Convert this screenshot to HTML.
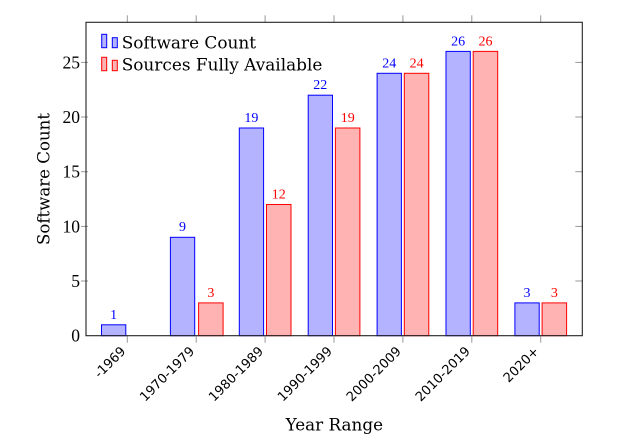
<!DOCTYPE html>
<html><head><meta charset="utf-8"><style>
html,body{margin:0;padding:0;background:#fff;}
svg{display:block;}
</style></head><body>
<svg width="621" height="444" viewBox="0 0 621 444" xmlns="http://www.w3.org/2000/svg">
<rect width="621" height="444" fill="#fff"/>
<!-- bars -->
<g stroke-width="1">
<!-- blue -->
<rect x="101.5" y="324.8" width="24.3" height="10.9" fill="#b3b3ff" stroke="#0000ff"/>
<rect x="170.4" y="237.3" width="24.3" height="98.4" fill="#b3b3ff" stroke="#0000ff"/>
<rect x="239.3" y="128.0" width="24.3" height="207.7" fill="#b3b3ff" stroke="#0000ff"/>
<rect x="308.2" y="95.2" width="24.3" height="240.5" fill="#b3b3ff" stroke="#0000ff"/>
<rect x="377.1" y="73.3" width="24.3" height="262.4" fill="#b3b3ff" stroke="#0000ff"/>
<rect x="446.0" y="51.4" width="24.3" height="284.3" fill="#b3b3ff" stroke="#0000ff"/>
<rect x="514.9" y="302.9" width="24.3" height="32.8" fill="#b3b3ff" stroke="#0000ff"/>
<!-- red -->
<rect x="198.6" y="302.9" width="24.5" height="32.8" fill="#ffb3b3" stroke="#ff0000"/>
<rect x="266.5" y="204.5" width="24.5" height="131.2" fill="#ffb3b3" stroke="#ff0000"/>
<rect x="335.4" y="128.0" width="24.5" height="207.7" fill="#ffb3b3" stroke="#ff0000"/>
<rect x="404.3" y="73.3" width="24.5" height="262.4" fill="#ffb3b3" stroke="#ff0000"/>
<rect x="473.2" y="51.4" width="24.5" height="284.3" fill="#ffb3b3" stroke="#ff0000"/>
<rect x="542.1" y="302.9" width="24.5" height="32.8" fill="#ffb3b3" stroke="#ff0000"/>
</g>
<!-- bar labels -->
<g font-family="'Liberation Serif', serif" font-size="14" text-anchor="middle">
<g fill="#0000ff">
<text x="113.6" y="319">1</text>
<text x="182.5" y="231">9</text>
<text x="251.4" y="122">19</text>
<text x="320.3" y="89.2">22</text>
<text x="389.2" y="67.3">24</text>
<text x="458.1" y="45.4">26</text>
<text x="527.0" y="296.9">3</text>
</g>
<g fill="#ff0000">
<text x="210.9" y="296.9">3</text>
<text x="278.8" y="198.5">12</text>
<text x="347.7" y="122">19</text>
<text x="416.6" y="67.3">24</text>
<text x="485.5" y="45.4">26</text>
<text x="554.4" y="296.9">3</text>
</g>
</g>
<!-- ticks -->
<g stroke="#999" stroke-width="1">
<line x1="127.3" y1="15.3" x2="127.3" y2="22.3"/>
<line x1="196.2" y1="15.3" x2="196.2" y2="22.3"/>
<line x1="265.1" y1="15.3" x2="265.1" y2="22.3"/>
<line x1="334.0" y1="15.3" x2="334.0" y2="22.3"/>
<line x1="402.9" y1="15.3" x2="402.9" y2="22.3"/>
<line x1="471.8" y1="15.3" x2="471.8" y2="22.3"/>
<line x1="540.7" y1="15.3" x2="540.7" y2="22.3"/>
<line x1="127.3" y1="335.7" x2="127.3" y2="342.7"/>
<line x1="196.2" y1="335.7" x2="196.2" y2="342.7"/>
<line x1="265.1" y1="335.7" x2="265.1" y2="342.7"/>
<line x1="334.0" y1="335.7" x2="334.0" y2="342.7"/>
<line x1="402.9" y1="335.7" x2="402.9" y2="342.7"/>
<line x1="471.8" y1="335.7" x2="471.8" y2="342.7"/>
<line x1="540.7" y1="335.7" x2="540.7" y2="342.7"/>
<line x1="81" y1="281.0" x2="88" y2="281.0"/>
<line x1="81" y1="226.4" x2="88" y2="226.4"/>
<line x1="81" y1="171.7" x2="88" y2="171.7"/>
<line x1="81" y1="117.0" x2="88" y2="117.0"/>
<line x1="81" y1="62.4" x2="88" y2="62.4"/>
<line x1="575.3" y1="281.0" x2="582.3" y2="281.0"/>
<line x1="575.3" y1="226.4" x2="582.3" y2="226.4"/>
<line x1="575.3" y1="171.7" x2="582.3" y2="171.7"/>
<line x1="575.3" y1="117.0" x2="582.3" y2="117.0"/>
<line x1="575.3" y1="62.4" x2="582.3" y2="62.4"/>
</g>
<!-- frame -->
<rect x="86" y="22.3" width="496.3" height="313.4" fill="none" stroke="#222" stroke-width="1.1"/>
<!-- y tick labels -->
<g font-family="'Liberation Serif', serif" font-size="17.5" text-anchor="end" fill="#000">
<text x="80" y="341.7">0</text>
<text x="80" y="287.0">5</text>
<text x="80" y="232.4">10</text>
<text x="80" y="177.7">15</text>
<text x="80" y="123.0">20</text>
<text x="80" y="68.4">25</text>
</g>
<!-- x tick labels -->
<g font-family="'DejaVu Sans', sans-serif" font-size="13" text-anchor="end" fill="#000">
<text transform="translate(126.3,352) rotate(-45)">-1969</text>
<text transform="translate(195.2,352) rotate(-45)">1970-1979</text>
<text transform="translate(264.1,352) rotate(-45)">1980-1989</text>
<text transform="translate(333.0,352) rotate(-45)">1990-1999</text>
<text transform="translate(401.9,352) rotate(-45)">2000-2009</text>
<text transform="translate(470.8,352) rotate(-45)">2010-2019</text>
<text transform="translate(539.7,352) rotate(-45)">2020+</text>
</g>
<!-- axis labels -->
<text x="334.3" y="430.5" font-family="'DejaVu Serif', serif" font-size="16.8" text-anchor="middle" fill="#000">Year Range</text>
<text transform="translate(49.5,179) rotate(-90)" font-family="'DejaVu Serif', serif" font-size="16.6" text-anchor="middle" fill="#000">Software Count</text>
<!-- legend -->
<g stroke-width="1">
<rect x="101.7" y="34.3" width="5" height="13.4" fill="#b3b3ff" stroke="#0000ff"/>
<rect x="112.3" y="37.7" width="5" height="10" fill="#b3b3ff" stroke="#0000ff"/>
<rect x="101.7" y="57.3" width="5" height="13.4" fill="#ffb3b3" stroke="#ff0000"/>
<rect x="112.3" y="60.3" width="5" height="10.4" fill="#ffb3b3" stroke="#ff0000"/>
</g>
<g font-family="'DejaVu Serif', serif" font-size="16.9" fill="#000">
<text x="121.7" y="48.3">Software Count</text>
<text x="121.7" y="70.7">Sources Fully Available</text>
</g>
</svg>
</body></html>
